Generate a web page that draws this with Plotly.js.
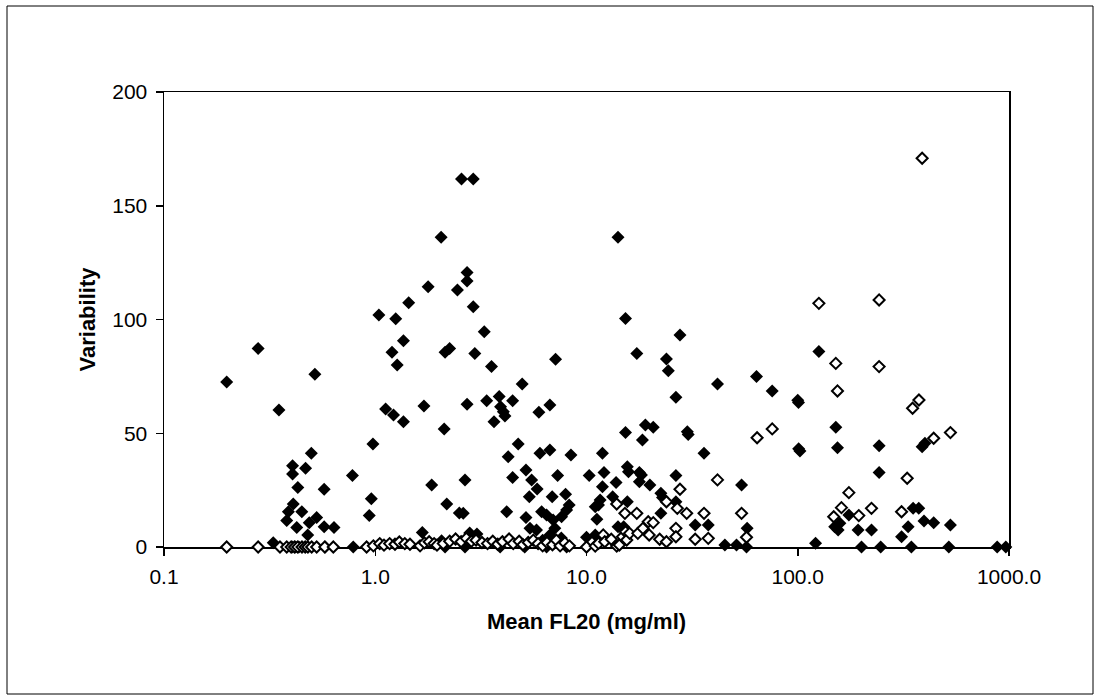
<!DOCTYPE html>
<html>
<head>
<meta charset="utf-8">
<script src="https://cdn.plot.ly/plotly-3.0.1.min.js"></script>
<style>html,body{margin:0;padding:0;background:#fff;}#chart{width:1101px;height:700px;}</style>
</head>
<body>
<div id="chart"></div>
<script>
// Filled diamonds (series 1)
const filledX = [0.198,0.279,0.35,0.518,0.498,0.406,0.406,0.468,0.43,0.573,0.78,0.975,0.958,0.937,0.409,0.388,0.449,0.381,0.425,0.487,0.528,0.479,0.573,0.638,0.329,0.787,0.405,0.42,0.435,0.58,
1.04,1.25,1.44,1.36,1.20,1.27,2.14,2.25,1.12,1.22,1.36,1.70,2.12,1.85,2.18,1.67,2.06,2.5,2.05,1.78,2.45,2.56,2.91,2.72,2.72,2.91,
14.1,15.3,3.28,2.96,3.55,7.14,17.3,27.7,23.9,24.4,63.8,41.7,26.5,4.96,2.72,3.37,3.86,4.47,3.92,4.04,4.11,3.65,5.95,6.71,
15.3,18.4,19.0,20.7,30.0,30.3,4.75,4.26,6.02,6.71,8.44,11.9,36.0,2.66,2.61,4.19,4.47,5.17,5.50,5.84,5.36,6.88,7.96,8.28,7.30,
5.17,6.13,6.47,6.95,7.62,8.05,7.08,6.71,7.33,5.40,5.80,10.3,12.1,13.8,11.9,13.3,11.6,11.4,11.0,11.2,15.6,15.8,17.8,18.2,17.8,19.95,26.5,
15.6,22.5,22.9,26.5,22.5,14.1,15.0,32.7,37.7,54.2,57.6,45.2,51.3,57.2,10.0,11.0,
125.9,75.7,100.0,100.8,102.4,101.0,151.4,154.2,242.7,388,400,242.7,174.6,149.6,155.3,158.3,193,223.4,333,310,396,440,528,121.4,
200.4,247,345,519,879,966,351.6,374,2.80,3.03,2.14,2.66,3.9,5.1,6.47,8.05,7.0,7.6,6.2];
const filledY = [72.5,87.3,60.2,75.9,41.2,35.7,32.1,34.6,26.2,25.4,31.4,45.3,21.2,13.8,18.9,15.5,15.5,11.6,8.6,10.7,13.0,5.3,8.9,8.6,1.9,0,0,0,0,0,
102,100.3,107.4,90.7,85.6,80,85.6,87.3,60.7,58,55.1,62,51.9,27.3,18.9,6.4,2.8,14.9,136.1,114.4,113,161.8,161.8,120.7,116.9,105.6,
136.1,100.4,94.6,85.1,79.3,82.5,85.1,93.2,82.6,77.5,75.0,71.6,65.8,71.6,62.7,64.3,66.1,64.3,61.7,59.5,57.6,55.1,59.2,62.4,
50.3,47,53.6,52.6,50.7,49.5,45.3,39.7,41.2,42.6,40.4,41.2,41.2,29.5,14.8,15.5,30.5,33.8,29.5,25.5,22.1,22.1,23.2,18.5,31.4,
13.0,15.5,14.1,11.9,13.3,16.3,8.2,5.3,2.3,8.2,7.5,31.4,32.8,28.4,26.5,22.1,20.7,18.5,17.7,12.2,35.3,33.1,32.8,31.6,28.7,27.3,31.4,
19.9,23.6,21.8,19.9,14.8,8.9,8.9,9.7,9.7,27.3,8.2,0.9,0.9,0,4.3,5.3,
85.9,68.6,64.5,63.5,42.2,43.2,52.6,43.6,44.5,44.1,45.6,32.8,14.1,8.9,7.5,10.4,7.5,7.5,8.9,4.5,11.4,10.7,9.7,1.6,
0,0,0,0,0,0,17,17,6.1,5.7,0,0,0,0,0,0,1.5,4.0,3.0];

// Open diamonds (series 2)
const openX = [0.198,0.279,0.354,0.381,0.40,0.415,0.43,0.45,0.466,0.48,0.50,0.528,0.577,0.633,0.91,0.98,1.05,1.1,1.17,1.24,1.3,1.38,1.46,1.63,1.71,1.8,1.9,1.96,
2.1,2.25,2.4,2.55,2.7,2.85,3.0,3.2,3.4,3.6,3.8,4.0,4.3,4.5,4.8,5.0,5.3,5.6,5.9,6.2,6.5,6.9,7.2,7.5,7.9,8.3,
10.0,11.0,11.4,12.0,12.2,13.1,13.9,14.3,14.8,15.3,15.5,13.9,15.2,17.3,16.0,17.5,18.5,19.6,20.7,19.8,22.2,23.9,23.9,26.9,
26.5,26.5,27.7,29.8,32.7,36.0,37.7,41.7,54.2,57.2,
125.9,242.7,388,151.4,242.7,154.2,374.7,349.6,75.7,64.2,440,528,329.6,174.6,161,148,194.5,223.4,310];
const openY = [0,0,0,0,0,0,0,0,0,0,0,0,0,0,0,0.5,1.5,0.8,1.5,1.2,2.2,1.5,1.2,0.5,1.8,2.3,1.5,0.8,
1.5,2.5,3.5,2.3,3.8,2.5,3.0,2.0,1.5,2.5,1.2,2.3,3.5,1.5,2.5,1.0,2.0,3.0,1.5,0.5,2.0,1.0,3.0,0.5,1.8,0.5,
0,0.4,1.6,5.3,2.3,3.4,0.4,0.9,4.5,6.7,3.1,18.9,14.8,14.8,6.0,6.0,8.2,11.1,10.7,5.3,3.4,2.3,19.9,17.0,
8.2,4.5,25.4,14.8,3.4,14.8,3.8,29.5,14.8,4.3,
107.1,108.6,170.9,80.7,79.3,68.6,64.6,61,51.9,48,47.8,50.3,30.2,23.9,17.3,13.3,13.8,17,15.5];

const xTickVals = [0.1, 1, 10, 100, 1000];
const xTickText = ['0.1', '1.0', '10.0', '100.0', '1000.0'];
const yTickVals = [0, 50, 100, 150, 200];

const W = 1101, H = 700;
const L = 164, R = 92, T = 92, B = 153;
const pw = W - L - R, ph = H - T - B;
const px = v => (v - L) / pw;
const py = v => (H - B - v) / ph;

const tickFont = {family: 'Liberation Sans, Arial, sans-serif', size: 21, color: '#000'};
const titleFont = {family: 'Liberation Sans, Arial, sans-serif', size: 22, color: '#000', weight: 'bold'};

const traces = [
  {
    x: filledX, y: filledY, type: 'scatter', mode: 'markers', cliponaxis: false,
    marker: {symbol: 'diamond', size: 10, color: '#000', line: {width: 0}}
  },
  {
    x: openX, y: openY, type: 'scatter', mode: 'markers', cliponaxis: false,
    marker: {symbol: 'diamond', size: 8.5, color: '#fff', line: {width: 2, color: '#000'}}
  }
];

const layout = {
  width: W, height: H,
  margin: {l: L, r: R, t: T, b: B, pad: 0},
  paper_bgcolor: '#fff', plot_bgcolor: '#fff',
  showlegend: false,
  xaxis: {
    type: 'log', range: [-1, 3], autorange: false,
    tickvals: xTickVals, ticktext: xTickText,
    ticks: 'outside', ticklen: 7, tickwidth: 1.5, tickcolor: '#000',
    showline: true, mirror: true, linecolor: '#000', linewidth: 1.5,
    showgrid: false, zeroline: false, layer: 'below traces',
    tickfont: tickFont, ticklabelstandoff: 3,
    title: {text: 'Mean FL20 (mg/ml)', font: titleFont, standoff: 27}
  },
  yaxis: {
    range: [0, 200], autorange: false,
    tickvals: yTickVals,
    ticks: 'outside', ticklen: 7, tickwidth: 1.5, tickcolor: '#000',
    showline: true, mirror: true, linecolor: '#000', linewidth: 1.5,
    showgrid: false, zeroline: false, layer: 'below traces',
    tickfont: tickFont, ticklabelstandoff: 4,
    title: {text: 'Variability', font: titleFont, standoff: 10}
  },
  shapes: [{
    type: 'rect', xref: 'paper', yref: 'paper',
    x0: px(7), x1: px(1093), y0: py(694), y1: py(6),
    line: {color: '#000', width: 1}, fillcolor: 'rgba(0,0,0,0)', layer: 'below'
  }]
};

Plotly.newPlot('chart', traces, layout, {staticPlot: true, displayModeBar: false});
</script>
</body>
</html>
